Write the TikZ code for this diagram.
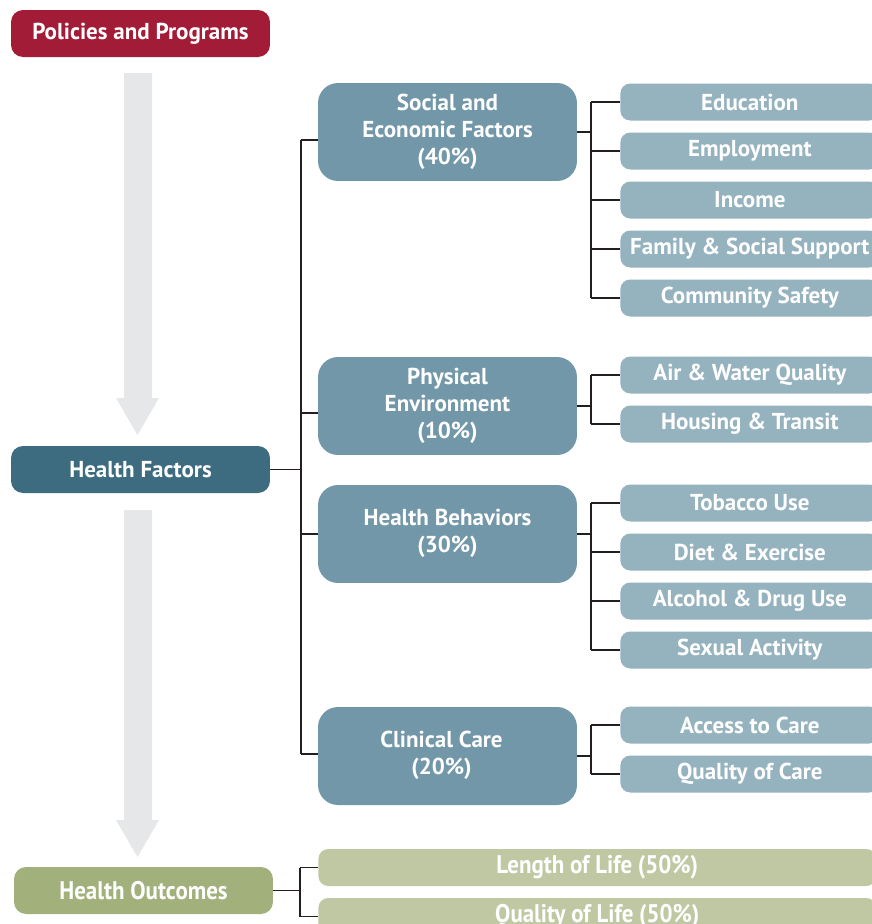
\documentclass[tikz,border=0pt]{standalone}
\usepackage{fontspec}
\setmainfont{PT Sans}
\usetikzlibrary{positioning}

\definecolor{policyred}{RGB}{163,28,55}
\definecolor{factorblue}{RGB}{61,108,128}
\definecolor{outcomegreen}{RGB}{162,176,124}
\definecolor{groupblue}{RGB}{113,151,168}
\definecolor{itemblue}{RGB}{149,178,191}
\definecolor{lifegreen}{RGB}{192,200,163}
\definecolor{flowgray}{RGB}{230,231,232}
\definecolor{wire}{RGB}{35,31,32}

\newcommand{\narrowtext}[1]{{\fontsize{14.5}{16}\selectfont\scalebox{0.9}[1]{#1}}}

\tikzset{
	box/.style={text=white, align=center, inner sep=0pt,
		font=\bfseries\fontsize{13.1}{15.4}\selectfont},
	mainbox/.style={box, minimum width=5.18cm, minimum height=0.94cm, rounded corners=0.24cm},
	groupbox/.style={box, fill=groupblue, minimum width=5.18cm, minimum height=1.96cm,
		rounded corners=0.4cm, text depth=0.12cm},
	itembox/.style={box, fill=itemblue, minimum width=5.18cm, minimum height=0.74cm, rounded corners=0.2cm},
	lifebox/.style={box, fill=lifegreen, minimum width=11.16cm, minimum height=0.74cm, rounded corners=0.2cm},
	wire/.style={draw=wire, line width=0.7pt},
}

\begin{document}
\begin{tikzpicture}[x=0.02cm, y=-0.02cm]

	\clip (0,0) rectangle (872,924);

	% === LEFT COLUMN === (((
	\node [mainbox, fill=policyred] (pp) at (140.5,33.5) {Policies and Programs};
	\node [mainbox, fill=factorblue] (hf) at (140.5,469.5) {Health Factors};
	\node [mainbox, fill=outcomegreen] (ho) at (143.5,890.5) {\narrowtext{Health Outcomes}};

	\fill [flowgray] (124,73) -- (152,73) -- (152,398) -- (159,398)
		-- (137.5,435) -- (116,398) -- (124,398) -- cycle;
	\fill [flowgray] (124,510) -- (152,510) -- (152,820) -- (159,820)
		-- (137.5,857) -- (116,820) -- (124,820) -- cycle;
	% )))

	% === GROUPS === (((
	\node [groupbox] (soc) at (447.5,132) {Social and\\Economic Factors\\(40\%)};
	\node [groupbox] (env) at (447.5,406) {Physical\\Environment\\(10\%)};
	\node [groupbox] (beh) at (447.5,534) {Health Behaviors\\(30\%)};
	\node [groupbox] (care) at (447.5,756)
		{Clinical Care\hspace*{0.24cm}\\(20\%)\hspace*{0.24cm}};

	\coordinate (tsoc) at (301,140);
	\coordinate (tenv) at (301,413);
	\coordinate (tbeh) at (301,534);
	\coordinate (tcare) at (301,754);

	\draw [wire] (hf.east) -- (hf.east -| tsoc);
	\draw [wire] (tsoc) -- (tcare);
	\draw [wire] (tsoc) -- (tsoc -| soc.west);
	\draw [wire] (tenv) -- (tenv -| env.west);
	\draw [wire] (tbeh) -- (tbeh -| beh.west);
	\draw [wire] (tcare) -- (tcare -| care.west);
	% )))

	% === ITEMS === (((
	\foreach \name/\y/\txt in {edu/102/Education, emp/151/Employment, inc/200/Income,
		fam/249/Family \& Social Support, safe/298/Community Safety,
		air/375/Air \& Water Quality, house/424/Housing \& Transit,
		tob/503/Tobacco Use, diet/552/Diet \& Exercise,
		alc/601/Alcohol \& Drug Use, sex/650/Sexual Activity,
		acc/725/Access to Care, qual/774/Quality of Care}
		\node [itembox, anchor=west] (\name) at (620,\y) {\txt};

	\foreach \grp/\first/\last in {soc/edu/safe, env/air/house, beh/tob/sex, care/acc/qual} {
		\coordinate (b\grp) at (\grp.east -| 591,0);
		\draw [wire] (\grp.east) -- (b\grp);
		\draw [wire] (b\grp |- \first.west) -- (b\grp |- \last.west);
	}
	\foreach \grp/\name in {soc/edu, soc/emp, soc/inc, soc/fam, soc/safe,
		env/air, env/house, beh/tob, beh/diet, beh/alc, beh/sex, care/acc, care/qual}
		\draw [wire] (b\grp |- \name.west) -- (\name.west);
	% )))

	% === OUTCOMES === (((
	\node [lifebox, anchor=west] (len) at (318,867.5) {\narrowtext{Length of Life (50\%)}};
	\node [lifebox, anchor=west] (qol) at (318,916.5) {\narrowtext{Quality of Life (50\%)}};

	\coordinate (bho) at (300,890.5);
	\draw [wire] (ho.east) -- (bho);
	\draw [wire] (bho |- len.west) -- (bho |- qol.west);
	\draw [wire] (bho |- len.west) -- (len.west);
	\draw [wire] (bho |- qol.west) -- (qol.west);
	% )))

\end{tikzpicture}
\end{document}
